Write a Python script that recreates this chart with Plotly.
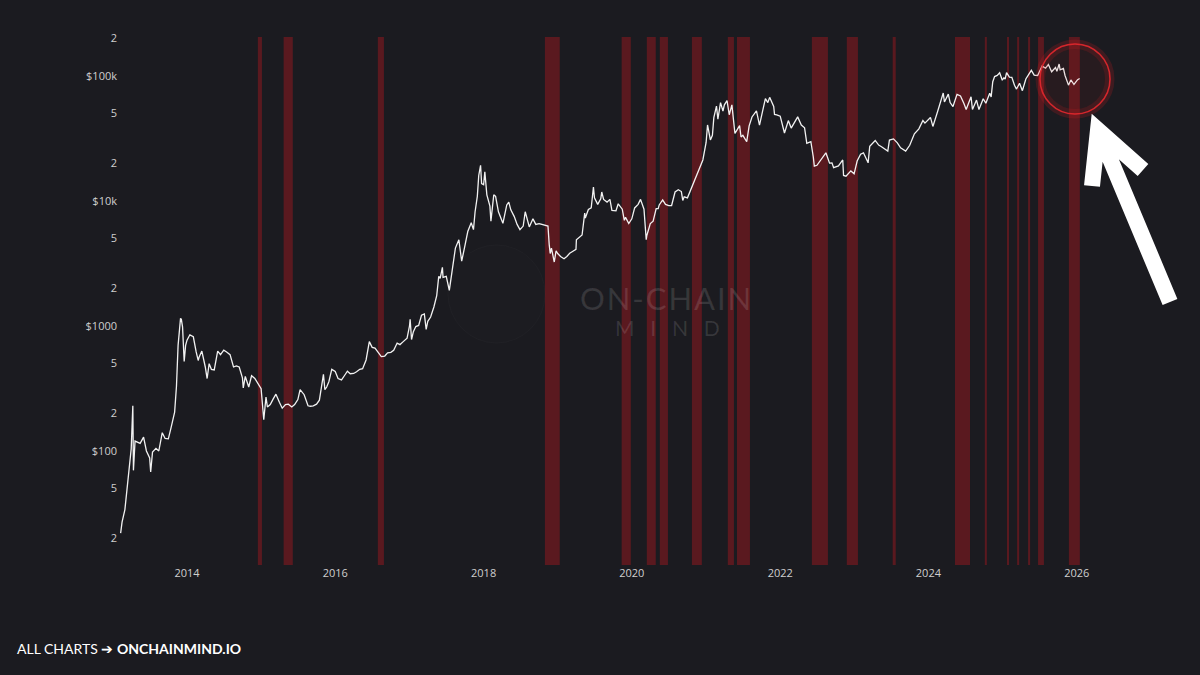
import plotly.graph_objects as go

# ---------------- data ----------------
dates = [
    "2013-02-08","2013-02-15","2013-03-01","2013-03-10","2013-03-20","2013-04-01","2013-04-09","2013-04-12",
    "2013-04-20","2013-05-01","2013-05-15","2013-06-01","2013-06-15","2013-07-01","2013-07-06","2013-07-15",
    "2013-08-01","2013-08-15","2013-09-01","2013-09-15","2013-10-01","2013-10-15","2013-11-01","2013-11-10",
    "2013-11-18","2013-11-30","2013-12-04","2013-12-10","2013-12-18","2013-12-25",
    "2014-01-01","2014-01-15","2014-02-01","2014-02-15","2014-02-25","2014-03-01","2014-03-15","2014-04-01",
    "2014-04-10","2014-04-20","2014-05-01","2014-05-15","2014-06-01","2014-06-15","2014-07-01","2014-07-15",
    "2014-08-01","2014-08-18","2014-09-01","2014-09-15","2014-10-01","2014-10-05","2014-10-15","2014-11-01",
    "2014-11-15","2014-12-01","2014-12-15",
    "2015-01-01","2015-01-14","2015-01-25","2015-02-01","2015-02-15","2015-03-01","2015-03-15","2015-04-01",
    "2015-04-15","2015-05-01","2015-05-15","2015-06-01","2015-06-15","2015-07-01","2015-07-12","2015-08-01",
    "2015-08-20","2015-09-01","2015-09-15","2015-10-01","2015-10-15","2015-11-04","2015-11-11","2015-11-20",
    "2015-12-01","2015-12-15",
    "2016-01-01","2016-01-15","2016-02-01","2016-02-15","2016-03-01","2016-03-15","2016-04-01","2016-04-15",
    "2016-05-01","2016-05-15","2016-06-01","2016-06-17","2016-07-01","2016-07-15","2016-08-01","2016-08-15",
    "2016-09-01","2016-09-15","2016-10-01","2016-10-15","2016-11-01","2016-11-15","2016-12-01","2016-12-20",
    "2017-01-01","2017-01-04","2017-01-11","2017-01-20","2017-02-01","2017-02-15","2017-03-01","2017-03-15",
    "2017-03-24","2017-04-01","2017-04-15","2017-05-01","2017-05-15","2017-05-25","2017-06-01","2017-06-12",
    "2017-06-15","2017-07-01","2017-07-16","2017-08-01","2017-08-15","2017-09-01","2017-09-15","2017-10-01",
    "2017-10-15","2017-11-01","2017-11-12","2017-11-20","2017-12-01","2017-12-08","2017-12-17","2017-12-22",
    "2018-01-01","2018-01-07","2018-01-17","2018-02-01","2018-02-06","2018-02-20","2018-03-01","2018-03-15",
    "2018-04-01","2018-04-06","2018-04-25","2018-05-05","2018-05-15","2018-06-01","2018-06-15","2018-06-29",
    "2018-07-15","2018-07-25","2018-08-14","2018-09-01","2018-09-15","2018-10-01","2018-10-15","2018-11-01",
    "2018-11-14","2018-11-20","2018-11-25","2018-12-01","2018-12-15","2018-12-24",
    "2019-01-01","2019-01-15","2019-02-01","2019-02-15","2019-03-01","2019-03-15","2019-04-01","2019-04-03",
    "2019-04-15","2019-05-01","2019-05-14","2019-05-17","2019-06-01","2019-06-15","2019-06-26","2019-07-01",
    "2019-07-17","2019-08-01","2019-08-06","2019-08-15","2019-09-01","2019-09-15","2019-09-25","2019-10-15",
    "2019-10-26","2019-11-01","2019-11-15","2019-11-25","2019-12-01","2019-12-17",
    "2020-01-01","2020-01-15","2020-02-01","2020-02-13","2020-03-01","2020-03-12","2020-03-15","2020-04-01",
    "2020-04-15","2020-04-30","2020-05-10","2020-05-15","2020-06-01","2020-06-15","2020-07-01","2020-07-15",
    "2020-08-01","2020-08-17","2020-09-01","2020-09-08","2020-09-15","2020-10-01","2020-10-21","2020-11-01",
    "2020-11-15","2020-12-01","2020-12-16",
    "2021-01-01","2021-01-08","2021-01-22","2021-02-01","2021-02-08","2021-02-21","2021-02-28","2021-03-13",
    "2021-03-25","2021-04-01","2021-04-14","2021-04-25","2021-05-08","2021-05-19","2021-05-23","2021-06-01",
    "2021-06-15","2021-06-22","2021-07-01","2021-07-20","2021-08-01","2021-08-15","2021-09-06","2021-09-21",
    "2021-10-01","2021-10-20","2021-11-01","2021-11-10","2021-11-30","2021-12-04","2021-12-15",
    "2022-01-01","2022-01-22","2022-02-10","2022-02-24","2022-03-28","2022-04-15","2022-05-01","2022-05-12",
    "2022-06-01","2022-06-13","2022-06-18","2022-07-01","2022-07-15","2022-08-14","2022-09-01","2022-09-13",
    "2022-09-21","2022-10-15","2022-11-05","2022-11-09","2022-11-21","2022-12-15","2022-12-31",
    "2023-01-15","2023-02-01","2023-02-15","2023-03-10","2023-03-18","2023-04-14","2023-05-01","2023-05-15",
    "2023-06-15","2023-06-23","2023-07-13","2023-08-01","2023-08-17","2023-09-11","2023-10-01","2023-10-24",
    "2023-11-15","2023-12-05","2023-12-15",
    "2024-01-11","2024-01-23","2024-02-15","2024-03-05","2024-03-14","2024-03-20","2024-04-08","2024-04-17",
    "2024-05-01","2024-05-21","2024-06-07","2024-06-24","2024-07-05","2024-07-29","2024-08-05","2024-08-25",
    "2024-09-06","2024-09-27","2024-10-10","2024-10-29","2024-11-05","2024-11-13","2024-11-22","2024-12-05",
    "2024-12-17","2024-12-30",
    "2025-01-07","2025-01-13","2025-01-20","2025-02-03","2025-02-15","2025-02-28","2025-03-10","2025-03-25",
    "2025-04-08","2025-04-25","2025-05-10","2025-05-22","2025-06-05","2025-06-22","2025-07-14","2025-07-31",
    "2025-08-14","2025-08-30","2025-09-18","2025-09-25","2025-10-06","2025-10-11","2025-10-27","2025-11-04",
    "2025-11-21","2025-12-03","2025-12-18",
    "2026-01-05","2026-01-15",
]
prices = [
    22,27,34,46,64,104,230,70,
    120,117,115,129,100,88,68,98,
    105,100,140,126,125,155,205,330,
    700,1150,1130,980,520,700,
    770,850,820,620,530,560,630,470,
    380,500,450,445,630,590,640,620,
    590,470,480,470,385,320,395,325,
    400,380,350,
    315,178,270,225,235,260,285,245,
    220,235,237,225,235,258,310,282,
    230,228,230,237,255,410,310,325,
    360,450,
    432,380,370,400,435,415,417,430,
    450,455,535,750,675,665,605,570,
    575,610,615,640,730,710,750,800,
    1000,1130,780,900,990,1010,1220,1250,
    940,1090,1180,1420,1750,2500,2400,2950,
    2450,2500,1930,2850,4200,4900,3300,4400,
    5700,6700,5900,8200,10900,16000,19300,13800,
    13500,17100,11200,9100,6900,11200,10900,8200,
    6800,6630,9300,9800,8500,7500,6500,5900,
    6300,8200,6200,7200,6500,6600,6500,6350,
    6300,4500,3800,4200,3250,4000,
    3800,3600,3450,3600,3820,3950,4100,4900,
    5100,5350,8000,7300,8550,8800,12900,10600,
    9400,10400,11800,10300,9800,10300,8400,8350,
    9500,9200,8600,7000,7400,6600,
    7200,8800,9400,10300,8600,4900,5300,6600,
    6900,8700,8700,9300,10200,9400,9200,9200,
    11800,12300,11900,10100,10800,10600,12800,13800,
    16000,19000,21300,
    29400,40600,30800,33500,46400,57500,45200,61200,
    52300,58800,63500,49000,58800,37000,34700,36700,
    40100,32500,33500,29800,39900,47000,52700,40500,
    48200,66000,61300,67500,57000,49200,48900,
    47700,35000,44000,38300,47100,40500,38500,28900,
    29800,22500,19000,19300,20800,24300,20100,20200,
    18500,19100,21300,16000,15800,17400,16500,
    20900,23700,24300,20200,27400,30500,28000,27200,
    25100,30700,31400,29200,26600,25100,27900,34500,
    37800,44000,42000,
    46600,39500,51800,66000,73100,62000,71600,61300,
    57000,71400,69300,60300,54000,68200,53900,64200,
    53900,65800,60500,72700,68000,90000,98900,101000,
    106100,92500,
    96900,94500,106500,98000,97500,84300,78600,87500,
    76300,94700,104000,111000,101500,101000,120000,115700,
    123500,108200,117000,109000,124700,112000,115000,101000,
    84500,93000,85500,
    93500,95500,
]

band_starts = ["2014-12-16","2015-04-22","2016-07-29","2018-10-30","2019-11-12","2020-03-15","2020-05-18",
               "2020-10-23","2021-04-18","2021-06-02","2022-06-06","2022-11-25","2023-07-09","2024-05-11",
               "2024-10-05","2025-01-22","2025-03-13","2025-05-06","2025-06-24","2025-11-23"]
band_ends = ["2015-01-05","2015-06-06","2016-08-28","2019-01-11","2019-12-27","2020-04-28","2020-06-27",
             "2020-12-11","2021-05-18","2021-08-05","2022-08-24","2023-01-19","2023-07-24","2024-07-24",
             "2024-10-15","2025-02-01","2025-03-23","2025-05-16","2025-07-23","2026-01-16"]

y_tickvals = [20, 50, 100, 200, 500, 1000, 2000, 5000, 10000, 20000, 50000, 100000, 200000]
y_ticktext = ["2", "5", "$100", "2", "5", "$1000", "2", "5", "$10k", "2", "5", "$100k", "2"]
x_tickvals = ["2014-01-01", "2016-01-01", "2018-01-01", "2020-01-01", "2022-01-01", "2024-01-01", "2026-01-01"]
x_ticktext = ["2014", "2016", "2018", "2020", "2022", "2024", "2026"]

# ---------------- layout geometry ----------------
W, H = 1200, 675
L, R, T, B = 118, 1090, 37, 565
BG = "#1b1b20"


def px(xp):
    return (xp - L) / (R - L)


def py(yp):
    return (B - yp) / (B - T)


fig = go.Figure()
fig.add_trace(go.Scatter(x=dates, y=prices, mode="lines",
                         line=dict(color="#f2f2f2", width=1.3), hoverinfo="skip", showlegend=False))

shapes = []
for s, e in zip(band_starts, band_ends):
    shapes.append(dict(type="rect", xref="x", yref="paper", x0=s, x1=e, y0=0, y1=1,
                       fillcolor="rgba(185,22,30,0.40)", line=dict(width=0), layer="below"))

# faint watermark logo
shapes.append(dict(type="circle", xref="paper", yref="paper",
                   x0=px(448), x1=px(545), y0=py(343), y1=py(245),
                   fillcolor="rgba(255,255,255,0.008)", line=dict(color="rgba(255,255,255,0.025)", width=1),
                   layer="below"))

# red highlight circle: soft glow + single ring
cx, cy = 1075, 79
shapes.append(dict(type="circle", xref="paper", yref="paper",
                   x0=px(cx - 37), x1=px(cx + 37), y0=py(cy + 37), y1=py(cy - 37),
                   fillcolor="rgba(0,0,0,0)", line=dict(color="rgba(230,30,35,0.18)", width=5)))
shapes.append(dict(type="circle", xref="paper", yref="paper",
                   x0=px(cx - 33), x1=px(cx + 33), y0=py(cy + 33), y1=py(cy - 33),
                   fillcolor="rgba(0,0,0,0)", line=dict(color="rgba(200,30,35,0.18)", width=6)))
shapes.append(dict(type="circle", xref="paper", yref="paper",
                   x0=px(cx - 35), x1=px(cx + 35), y0=py(cy + 35), y1=py(cy - 35),
                   fillcolor="rgba(200,25,30,0.07)", line=dict(color="rgba(225,40,45,0.9)", width=1.5)))

# white arrow
tail = (1170, 302)
tip = (1098, 130)
w1 = (1092, 186)
w2 = (1143, 170)
path = (f"M {px(tail[0])},{py(tail[1])} L {px(tip[0])},{py(tip[1])} "
        f"M {px(w1[0])},{py(w1[1])} L {px(tip[0])},{py(tip[1])} L {px(w2[0])},{py(w2[1])}")
shapes.append(dict(type="path", xref="paper", yref="paper", path=path,
                   line=dict(color="white", width=16)))

annotations = [
    dict(text="O\u200aN\u200a-\u200aC\u200aH\u200aA\u200aI\u200aN", x=px(665), y=py(298), xref="paper", yref="paper",
         showarrow=False, font=dict(family="Lato", size=31, color="rgba(255,255,255,0.12)"),
         xanchor="center", yanchor="middle"),
    dict(text="M\u2003I\u2003N\u2003D", x=px(667), y=py(327), xref="paper", yref="paper", showarrow=False,
         font=dict(family="Lato", size=21, color="rgba(255,255,255,0.12)"), xanchor="center", yanchor="middle"),
    dict(text="ALL CHARTS \u2794 <b>ONCHAINMIND.IO</b>", x=px(15), y=py(648), xref="paper", yref="paper",
         showarrow=False, xanchor="left", yanchor="middle",
         font=dict(family="Lato", size=14, color="#ffffff")),
]

fig.update_layout(
    width=W, height=H,
    margin=dict(l=L, r=W - R, t=T, b=H - B),
    paper_bgcolor=BG, plot_bgcolor=BG,
    shapes=shapes, annotations=annotations,
    showlegend=False,
    xaxis=dict(type="date", range=["2013-01-26", "2026-03-07"], showgrid=False, zeroline=False,
               showline=False, tickmode="array", tickvals=x_tickvals, ticktext=x_ticktext,
               tickfont=dict(family="Open Sans", size=11, color="#cfcfcf"), ticks=""),
    yaxis=dict(type="log", range=[1.088, 5.312], showgrid=False, zeroline=False, showline=False,
               tickmode="array", tickvals=y_tickvals, ticktext=y_ticktext,
               tickfont=dict(family="Open Sans", size=11, color="#cfcfcf"), ticks=""),
)

fig.write_html("out.html", config={"displayModeBar": False},
               post_script="document.body.style.margin='0';document.body.style.background='#1b1b20';")
